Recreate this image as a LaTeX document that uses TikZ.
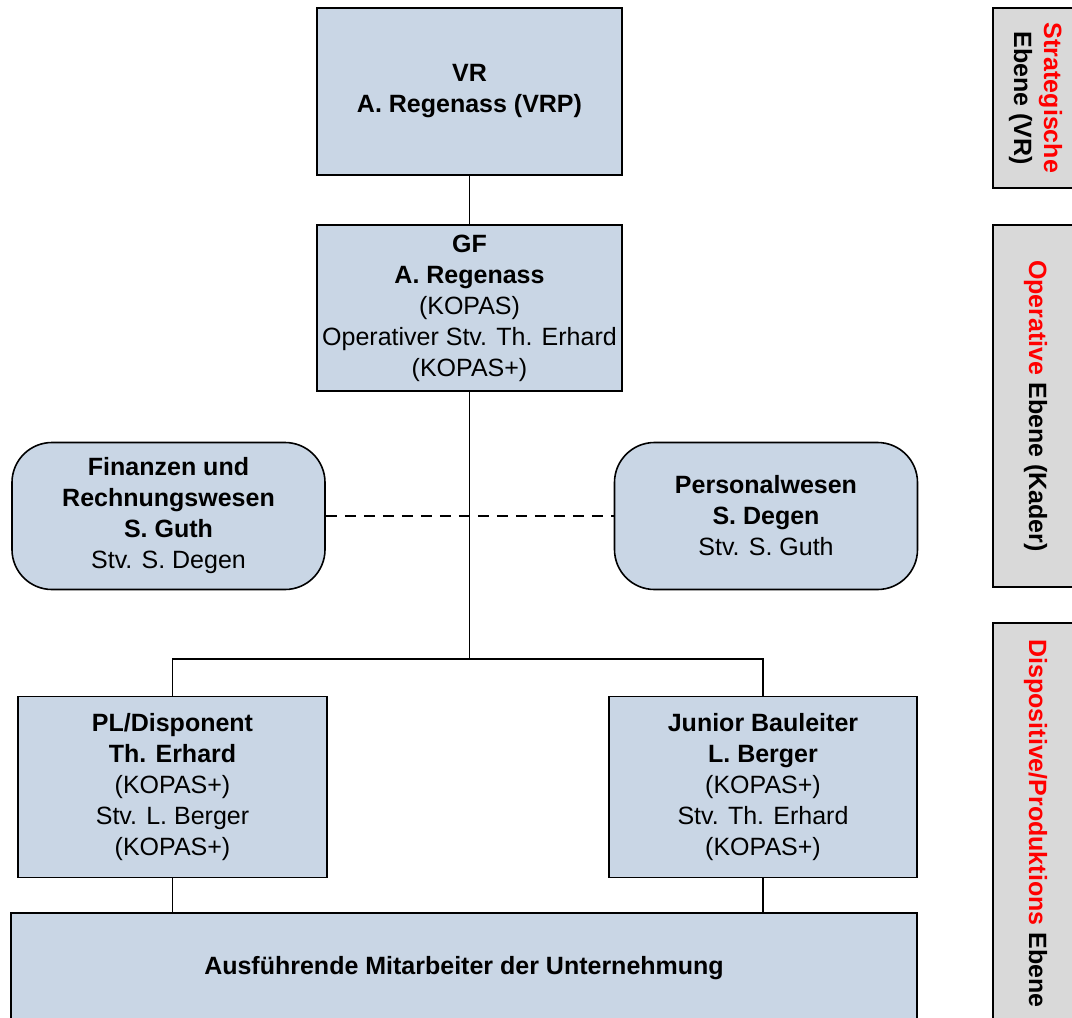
\documentclass[tikz,border=0pt]{standalone}
\usepackage{fontspec}
\setmainfont{Liberation Sans}
\definecolor{boxblue}{HTML}{C9D6E5}
\definecolor{levelgray}{HTML}{D9D9D9}
\begin{document}
\begin{tikzpicture}[x=1pt,y=-1pt,
    orgbox/.style={draw,line width=1.6pt,fill=boxblue,align=center,inner sep=0pt,
        font=\fontsize{25}{31}\selectfont},
    staffbox/.style={orgbox,rounded corners=40pt},
    levelbox/.style={draw,line width=1.6pt,fill=levelgray,align=center,inner sep=0pt,
        rotate=-90,minimum height=85pt,font=\fontsize{25}{30}\selectfont\bfseries},
    link/.style={line width=1.5pt}]
    \useasboundingbox (0,0) rectangle (1072,1018);
    \clip (0,0) rectangle (1072,1018);
    \node[orgbox,minimum width=305pt,minimum height=167pt] (vr) at (469.5,91.5)
        {\textbf{VR}\\\textbf{A. Regenass (VRP)}};
    \node[orgbox,minimum width=305pt,minimum height=166pt] (gf) at (469.5,308)
        {\textbf{GF}\\\textbf{A. Regenass}\\(KOPAS)\\Operativer Stv. Th. Erhard\\(KOPAS+)};
    \node[staffbox,minimum width=313pt,minimum height=147pt] (fin) at (168.5,516)
        {\textbf{Finanzen und}\\\textbf{Rechnungswesen}\\\textbf{S. Guth}\\Stv. S. Degen};
    \node[staffbox,minimum width=303pt,minimum height=147pt] (pers) at (766,516)
        {\textbf{Personalwesen}\\\textbf{S. Degen}\\Stv. S. Guth};
    \node[orgbox,minimum width=309pt,minimum height=181pt] (pl) at (172.5,787)
        {\textbf{PL/Disponent}\\\textbf{Th. Erhard}\\(KOPAS+)\\Stv. L. Berger\\(KOPAS+)};
    \node[orgbox,minimum width=308pt,minimum height=181pt] (jb) at (763,787)
        {\textbf{Junior Bauleiter}\\\textbf{L. Berger}\\(KOPAS+)\\Stv. Th. Erhard\\(KOPAS+)};
    \node[orgbox,minimum width=906pt,minimum height=111pt] (staff) at (464,968.5)
        {\textbf{Ausführende Mitarbeiter der Unternehmung}};
    \coordinate (fork) at (469.5,659);
    \draw[link] (vr.south) -- (gf.north);
    \draw[link] (gf.south) -- (fork);
    \draw[link] (pl.north) |- (fork) -| (jb.north);
    \draw[link,dash pattern=on 11pt off 8pt] (fin.east) -- (pers.west);
    \draw[link] (pl.south) -- (pl.south |- staff.north);
    \draw[link] (jb.south) -- (jb.south |- staff.north);
    \node[levelbox,minimum width=180pt] (lvstrat) at (1035.5,98)
        {\textcolor{red}{Strategische}\\Ebene (VR)};
    \node[levelbox,minimum width=362pt] (lvop) at (1035.5,406)
        {\textcolor{red}{Operative} Ebene (Kader)};
    \node[levelbox,minimum width=401pt] (lvdisp) at (1035.5,823.5)
        {\textcolor{red}{Dispositive/Produktions} Ebene};
\end{tikzpicture}
\end{document}
